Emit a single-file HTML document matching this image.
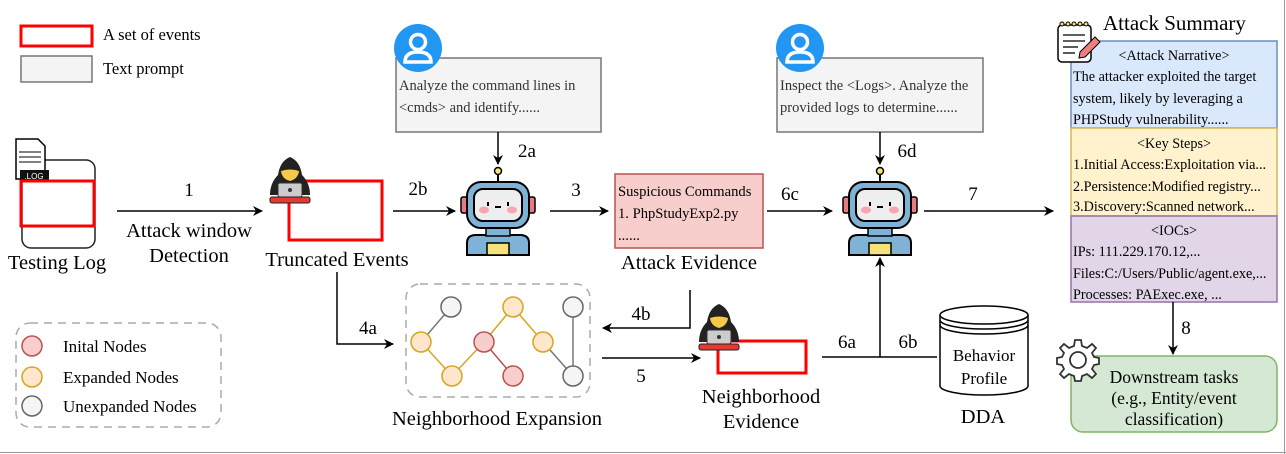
<!DOCTYPE html>
<html><head><meta charset="utf-8"><style>
body{margin:0;background:#fff}
svg{display:block;font-family:"Liberation Serif",serif}
</style></head><body>
<svg width="1286" height="454" viewBox="0 0 1286 454" xmlns="http://www.w3.org/2000/svg">
<defs>
<marker id="ar" markerWidth="10" markerHeight="10" refX="9" refY="5" orient="auto" markerUnits="userSpaceOnUse"><path d="M0,0 L10,5 L0,10 L3,5 Z" fill="#000"/></marker>
<g id="robot">
 <line x1="0" y1="174" x2="0" y2="183" stroke="#000" stroke-width="2"/>
 <circle cx="0" cy="171" r="3.5" fill="#f5e27a" stroke="#000" stroke-width="1.5"/>
 <rect x="-37" y="197" width="7" height="16" rx="2" fill="#e87a84" stroke="#000" stroke-width="1.5"/>
 <rect x="30" y="197" width="7" height="16" rx="2" fill="#e87a84" stroke="#000" stroke-width="1.5"/>
 <path d="M-31,255 L-31,243 Q-31,235 -22,235 L22,235 Q31,235 31,243 L31,255 Z" fill="#7fb2d6" stroke="#000" stroke-width="2"/>
 <rect x="-12" y="226" width="24" height="10" fill="#7fb2d6" stroke="#000" stroke-width="1.5"/>
 <rect x="-11" y="243" width="22" height="12" fill="#f5e27a" stroke="#000" stroke-width="1.5"/>
 <rect x="-31" y="182" width="62" height="46" rx="14" fill="#7fb2d6" stroke="#000" stroke-width="2"/>
 <rect x="-24" y="189" width="48" height="32" rx="9" fill="#eeeeee" stroke="#000" stroke-width="2"/>
 <ellipse cx="-14" cy="210" rx="5" ry="3.5" fill="#f6a6b2"/>
 <ellipse cx="14" cy="210" rx="5" ry="3.5" fill="#f6a6b2"/>
 <line x1="-10" y1="202" x2="-10" y2="206" stroke="#000" stroke-width="2"/>
 <line x1="10" y1="202" x2="10" y2="206" stroke="#000" stroke-width="2"/>
 <line x1="-3" y1="207" x2="3" y2="207" stroke="#000" stroke-width="2"/>
</g>
<g id="hacker">
 <path d="M0,0 Q-10,4 -12,18 Q-20,26 -20,38 L20,38 Q20,26 12,18 Q10,4 0,0 Z" fill="#222"/>
 <path d="M-9,14 Q0,11 9,14 Q8,22 0,24 Q-8,22 -9,14 Z" fill="#f7c948"/>
 <rect x="-12" y="26" width="24" height="14" rx="2" fill="#ccc" stroke="#333"/>
 <circle cx="0" cy="33" r="2" fill="#333"/>
 <rect x="-20" y="40" width="40" height="6" rx="2" fill="#e53935" stroke="#222"/>
</g>
<g id="user">
 <circle cx="0" cy="0" r="24" fill="#2196f3"/>
 <circle cx="0" cy="-6" r="7.5" fill="none" stroke="#fff" stroke-width="3.5"/>
 <path d="M-13,14 Q-13,4 0,4 Q13,4 13,14 Z" fill="none" stroke="#fff" stroke-width="3.5"/>
</g>
</defs>

<line x1="1284.5" y1="0" x2="1284.5" y2="454" stroke="#999"/>
<line x1="0" y1="452.5" x2="1286" y2="452.5" stroke="#999"/>

<!-- legend -->
<rect x="21" y="26" width="71" height="20" fill="none" stroke="#f00" stroke-width="3"/>
<rect x="21" y="56" width="71" height="26" fill="#f4f4f4" stroke="#777" stroke-width="1.5"/>
<text x="103" y="40" font-size="16.5">A set of events</text>
<text x="103" y="74" font-size="16.5">Text prompt</text>

<!-- testing log -->
<rect x="22" y="160" width="73" height="88" rx="9" fill="none" stroke="#222" stroke-width="1.5"/>
<path d="M16,139 L38,139 L45,146 L45,179 L16,179 Z" fill="#fff" stroke="#000" stroke-width="1.5"/>
<line x1="19" y1="152" x2="41" y2="152" stroke="#000"/><line x1="19" y1="157" x2="41" y2="157" stroke="#000"/><line x1="19" y1="162" x2="41" y2="162" stroke="#000"/>
<rect x="20" y="170" width="29" height="11" fill="#111"/>
<text x="34" y="179" font-size="8" fill="#fff" text-anchor="middle" font-family="Liberation Sans">.LOG</text>
<rect x="21" y="181" width="73" height="45" fill="none" stroke="#f00" stroke-width="3"/>
<text x="57" y="269" font-size="20.5" text-anchor="middle">Testing Log</text>

<line x1="117" y1="211" x2="262" y2="211" stroke="#000" stroke-width="1.5" marker-end="url(#ar)"/>
<text x="189" y="196" font-size="19" text-anchor="middle">1</text>
<text x="189" y="237" font-size="20.5" text-anchor="middle">Attack window</text>
<text x="189" y="262" font-size="20.5" text-anchor="middle">Detection</text>

<!-- truncated events -->
<rect x="289" y="181" width="93" height="59" fill="none" stroke="#f00" stroke-width="3"/>
<use href="#hacker" x="290" y="157"/>
<text x="337" y="266" font-size="20.5" text-anchor="middle">Truncated Events</text>

<line x1="393" y1="211" x2="455" y2="211" stroke="#000" stroke-width="1.5" marker-end="url(#ar)"/>
<text x="418" y="195" font-size="19" text-anchor="middle">2b</text>

<!-- prompt 1 -->
<rect x="396" y="58" width="205" height="74" fill="#f4f4f4" stroke="#777" stroke-width="1.5"/>
<use href="#user" x="418" y="48"/>
<text x="399" y="90" font-size="14.5" fill="#333">Analyze the command lines in</text>
<text x="399" y="112" font-size="14.5" fill="#333">&lt;cmds&gt; and identify......</text>
<line x1="498" y1="132" x2="498" y2="164" stroke="#000" stroke-width="1.5" marker-end="url(#ar)"/>
<text x="527" y="157" font-size="19" text-anchor="middle">2a</text>
<use href="#robot" x="498" y="0"/>

<line x1="550" y1="211" x2="608" y2="211" stroke="#000" stroke-width="1.5" marker-end="url(#ar)"/>
<text x="576" y="196" font-size="19" text-anchor="middle">3</text>

<!-- attack evidence -->
<rect x="615" y="174" width="148" height="74" fill="#f8cecc" stroke="#b85450" stroke-width="1.5"/>
<text x="618" y="196" font-size="14.6">Suspicious Commands</text>
<text x="618" y="218" font-size="14.6">1. PhpStudyExp2.py</text>
<text x="618" y="240" font-size="14.6">......</text>
<text x="689" y="269" font-size="20.5" text-anchor="middle">Attack Evidence</text>

<line x1="767" y1="211" x2="832" y2="211" stroke="#000" stroke-width="1.5" marker-end="url(#ar)"/>
<text x="790" y="200" font-size="19" text-anchor="middle">6c</text>

<!-- prompt 2 -->
<rect x="777" y="58" width="206" height="74" fill="#f4f4f4" stroke="#777" stroke-width="1.5"/>
<use href="#user" x="800" y="48"/>
<text x="780" y="90" font-size="14.5" fill="#333">Inspect the &lt;Logs&gt;. Analyze the</text>
<text x="780" y="112" font-size="14.5" fill="#333">provided logs to determine......</text>
<line x1="880" y1="132" x2="880" y2="164" stroke="#000" stroke-width="1.5" marker-end="url(#ar)"/>
<text x="907" y="157" font-size="19" text-anchor="middle">6d</text>
<use href="#robot" x="880" y="0"/>

<line x1="924" y1="211" x2="1053" y2="211" stroke="#000" stroke-width="1.5" marker-end="url(#ar)"/>
<text x="973" y="200" font-size="19" text-anchor="middle">7</text>

<!-- 6a/6b -->
<line x1="822" y1="357" x2="937" y2="357" stroke="#000" stroke-width="1.5"/>
<line x1="880" y1="357" x2="880" y2="258" stroke="#000" stroke-width="1.5" marker-end="url(#ar)"/>
<text x="847" y="348" font-size="19" text-anchor="middle">6a</text>
<text x="908" y="348" font-size="19" text-anchor="middle">6b</text>

<!-- DDA cylinder -->
<path d="M940,315 L940,386 A44,9 0 0 0 1028,386 L1028,315" fill="#fff" stroke="#000" stroke-width="1.5"/>
<ellipse cx="984" cy="315" rx="44" ry="9" fill="#fff" stroke="#000" stroke-width="1.5"/>
<path d="M940,320 A44,9 0 0 0 1028,320 M940,325 A44,9 0 0 0 1028,325" fill="none" stroke="#000" stroke-width="1.5"/>
<text x="984" y="361" font-size="17" text-anchor="middle">Behavior</text>
<text x="984" y="384" font-size="17" text-anchor="middle">Profile</text>
<text x="983" y="423" font-size="20.5" text-anchor="middle">DDA</text>

<!-- neighborhood expansion -->
<rect x="406" y="284" width="184" height="113" rx="14" fill="none" stroke="#aaa" stroke-width="1.5" stroke-dasharray="8,6"/>
<g stroke-width="1.5">
<line x1="451" y1="307" x2="421" y2="342" stroke="#777"/>
<line x1="421" y1="342" x2="452" y2="376" stroke="#d6a520"/>
<line x1="452" y1="376" x2="484" y2="342" stroke="#d6a520"/>
<line x1="484" y1="342" x2="513" y2="307" stroke="#d6a520"/>
<line x1="513" y1="307" x2="543" y2="342" stroke="#d6a520"/>
<line x1="484" y1="342" x2="513" y2="376" stroke="#b85450"/>
<line x1="543" y1="342" x2="573" y2="376" stroke="#777"/>
<line x1="573" y1="307" x2="573" y2="376" stroke="#777"/>
<g fill="#f5f5f5" stroke="#666"><circle cx="451" cy="307" r="10"/><circle cx="573" cy="307" r="10"/><circle cx="573" cy="376" r="10"/></g>
<g fill="#ffe6cc" stroke="#d6a520"><circle cx="421" cy="342" r="10"/><circle cx="452" cy="376" r="10"/><circle cx="513" cy="307" r="10"/><circle cx="543" cy="342" r="10"/></g>
<g fill="#f8cecc" stroke="#b85450"><circle cx="484" cy="342" r="10"/><circle cx="513" cy="376" r="10"/></g>
</g>
<text x="497" y="425" font-size="20.5" text-anchor="middle">Neighborhood Expansion</text>

<polyline points="337,272 337,344 393,344" fill="none" stroke="#000" stroke-width="1.5" marker-end="url(#ar)"/>
<text x="368" y="334" font-size="19" text-anchor="middle">4a</text>
<polyline points="690,290 690,328 603,328" fill="none" stroke="#000" stroke-width="1.5" marker-end="url(#ar)"/>
<text x="641" y="320" font-size="19" text-anchor="middle">4b</text>
<line x1="602" y1="358" x2="700" y2="358" stroke="#000" stroke-width="1.5" marker-end="url(#ar)"/>
<text x="641" y="382" font-size="19" text-anchor="middle">5</text>

<!-- neighborhood evidence -->
<rect x="718" y="341" width="88" height="32" fill="none" stroke="#f00" stroke-width="3"/>
<use href="#hacker" x="719" y="304"/>
<text x="761" y="403" font-size="20.5" text-anchor="middle">Neighborhood</text>
<text x="761" y="428" font-size="20.5" text-anchor="middle">Evidence</text>

<!-- legend nodes -->
<rect x="16" y="323" width="205" height="104" rx="14" fill="none" stroke="#aaa" stroke-width="1.5" stroke-dasharray="8,6"/>
<circle cx="32" cy="346" r="10" fill="#f8cecc" stroke="#b85450" stroke-width="1.5"/>
<circle cx="32" cy="377" r="10" fill="#ffe6cc" stroke="#d6a520" stroke-width="1.5"/>
<circle cx="32" cy="406" r="10" fill="#f5f5f5" stroke="#666" stroke-width="1.5"/>
<text x="63" y="352" font-size="17">Inital Nodes</text>
<text x="63" y="383" font-size="17">Expanded Nodes</text>
<text x="63" y="412" font-size="17">Unexpanded Nodes</text>

<!-- attack summary -->
<rect x="1071" y="41" width="206" height="87" fill="#dae8fc" stroke="#6c8ebf" stroke-width="1.5"/>
<rect x="1071" y="128" width="206" height="88" fill="#fff2cc" stroke="#d6b656" stroke-width="1.5"/>
<rect x="1071" y="216" width="206" height="86" fill="#e1d5e7" stroke="#9673a6" stroke-width="1.5"/>
<g font-size="14.2">
<text x="1174" y="60" text-anchor="middle">&lt;Attack Narrative&gt;</text>
<text x="1073" y="81">The attacker exploited the target</text>
<text x="1073" y="103">system, likely by leveraging a</text>
<text x="1073" y="124">PHPStudy vulnerability......</text>
<text x="1174" y="148" text-anchor="middle">&lt;Key Steps&gt;</text>
<text x="1073" y="169">1.Initial Access:Exploitation via...</text>
<text x="1073" y="191">2.Persistence:Modified registry...</text>
<text x="1073" y="211">3.Discovery:Scanned network...</text>
<text x="1174" y="235" text-anchor="middle">&lt;IOCs&gt;</text>
<text x="1073" y="256">IPs: 111.229.170.12,...</text>
<text x="1073" y="278">Files:C:/Users/Public/agent.exe,...</text>
<text x="1073" y="299">Processes: PAExec.exe, ...</text>
</g>
<!-- notebook icon on top -->
<rect x="1058" y="25" width="33" height="37" rx="4" fill="#fff" stroke="#000" stroke-width="1.5"/>
<g stroke="#000" stroke-width="1.3"><line x1="1063" y1="35" x2="1085" y2="35"/><line x1="1063" y1="41" x2="1085" y2="41"/><line x1="1063" y1="47" x2="1078" y2="47"/><line x1="1063" y1="53" x2="1075" y2="53"/></g>
<g fill="#f5e27a" stroke="#000"><circle cx="1062" cy="24" r="2"/><circle cx="1068" cy="24" r="2"/><circle cx="1074" cy="24" r="2"/><circle cx="1080" cy="24" r="2"/><circle cx="1086" cy="24" r="2"/></g>
<path d="M1080,52 L1095,37 L1100,42 L1085,57 L1079,58 Z" fill="#f08080" stroke="#000"/>
<text x="1103" y="30" font-size="21">Attack Summary</text>

<line x1="1173" y1="302" x2="1173" y2="354" stroke="#000" stroke-width="1.5" marker-end="url(#ar)"/>
<text x="1186" y="334" font-size="19" text-anchor="middle">8</text>

<rect x="1071" y="356" width="206" height="76" rx="12" fill="#d5e8d4" stroke="#82b366" stroke-width="1.5"/>
<g transform="translate(1078,360)" fill="none" stroke="#333" stroke-width="1.8">
<path d="M-3,-20 L3,-20 L4,-14 L9,-12 L14,-16 L18,-12 L14,-7 L16,-3 L21,-2 L21,4 L16,5 L14,9 L18,14 L14,18 L9,14 L4,16 L3,21 L-3,21 L-4,16 L-9,14 L-14,18 L-18,14 L-14,9 L-16,5 L-21,4 L-21,-2 L-16,-3 L-14,-7 L-18,-12 L-14,-16 L-9,-12 L-4,-14 Z" fill="#fff"/>
<circle r="8"/>
</g>
<text x="1174" y="383" font-size="17.5" text-anchor="middle">Downstream tasks</text>
<text x="1174" y="404" font-size="17.5" text-anchor="middle">(e.g., Entity/event</text>
<text x="1174" y="425" font-size="17.5" text-anchor="middle">classification)</text>
</svg>
</body></html>
